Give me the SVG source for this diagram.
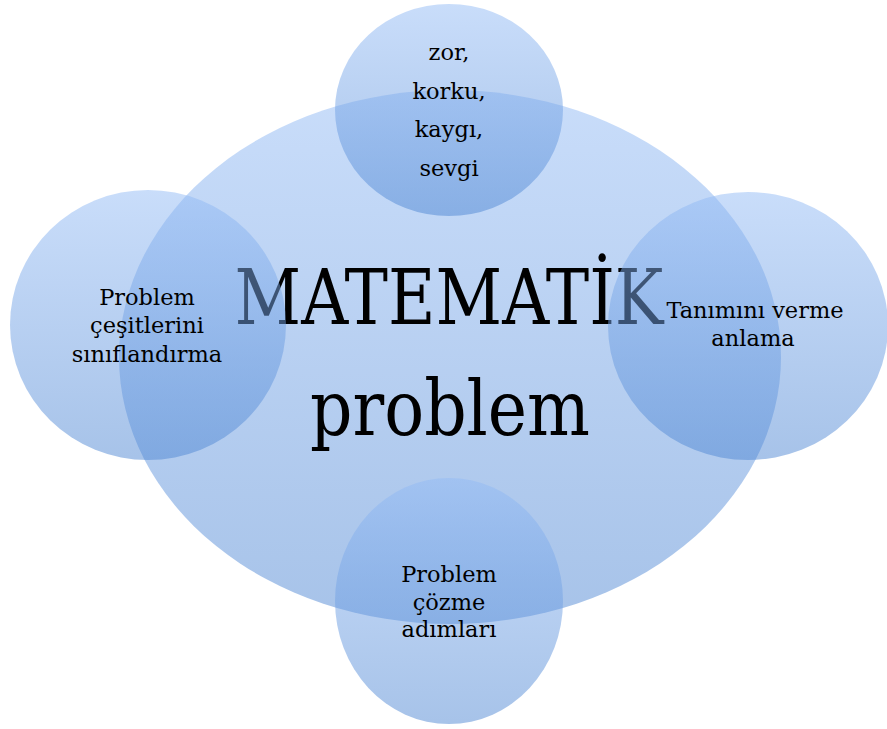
<svg xmlns="http://www.w3.org/2000/svg" width="887" height="729" viewBox="0 0 887 729">
<defs>
<linearGradient id="g" x1="0" y1="0" x2="0" y2="1">
<stop offset="0" stop-color="#93bbf5"/>
<stop offset="1" stop-color="#4f87d3"/>
</linearGradient>
<style>
.sh{fill:url(#g);fill-opacity:0.5;stroke:none}
.t{font-family:"DejaVu Serif","Liberation Serif",serif;font-size:22.5px;fill:#000;text-anchor:middle}
.big{font-family:"DejaVu Serif","Liberation Serif",serif;font-size:76px;fill:#000;text-anchor:middle}
</style>
</defs>
<rect width="887" height="729" fill="#fff"/>
<g id="center">
<ellipse class="sh" cx="450" cy="357" rx="331" ry="267"/>
<text class="big" x="449" y="324" textLength="429" lengthAdjust="spacingAndGlyphs">MATEMATİK</text>
<text class="big" x="450" y="435" textLength="280" lengthAdjust="spacingAndGlyphs">problem</text>
</g>
<g id="connectors"></g>
<g id="top">
<ellipse class="sh" cx="449" cy="110" rx="114" ry="106"/>
<text class="t" x="449" y="60">zor,</text>
<text class="t" x="449" y="99">korku,</text>
<text class="t" x="449" y="137">kaygı,</text>
<text class="t" x="449" y="176">sevgi</text>
</g>
<g id="left">
<ellipse class="sh" cx="148" cy="325" rx="138" ry="135"/>
<text class="t" x="147" y="305">Problem</text>
<text class="t" x="147" y="333">çeşitlerini</text>
<text class="t" x="147" y="362">sınıflandırma</text>
</g>
<g id="right">
<ellipse class="sh" cx="748" cy="326" rx="140" ry="134"/>
<text class="t" x="755" y="318">Tanımını verme</text>
<text class="t" x="753" y="346">anlama</text>
</g>
<g id="bottom">
<ellipse class="sh" cx="449" cy="601" rx="114" ry="123"/>
<text class="t" x="449" y="582">Problem</text>
<text class="t" x="449" y="610">çözme</text>
<text class="t" x="449" y="637">adımları</text>
</g>
</svg>
